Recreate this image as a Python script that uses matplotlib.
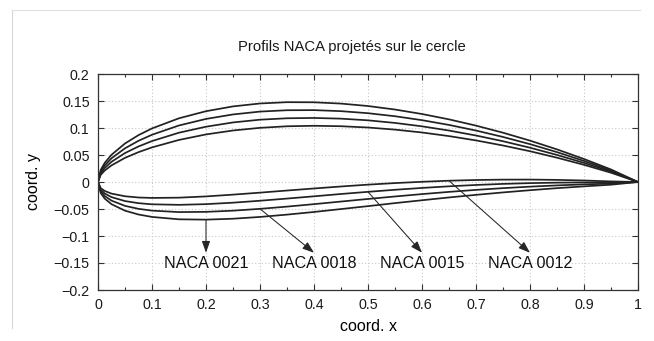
import numpy as np
import matplotlib
matplotlib.use("Agg")
import matplotlib.pyplot as plt
from matplotlib.lines import Line2D

plt.rcParams['font.family'] = ['Liberation Sans', 'DejaVu Sans']
plt.rcParams['font.size'] = 10

# stations along the chord
x = [0, 0.005, 0.0125, 0.025, 0.05, 0.075, 0.1, 0.15, 0.2, 0.25, 0.3, 0.35,
     0.4, 0.45, 0.5, 0.55, 0.6, 0.65, 0.7, 0.75, 0.8, 0.85, 0.9, 0.95, 1.0]

up_0021 = [0, 0.0223, 0.0355, 0.0504, 0.0713, 0.0868, 0.0992, 0.1180, 0.1311, 0.1400,
           0.1454, 0.1478, 0.1476, 0.1452, 0.1407, 0.1342, 0.1259, 0.1160, 0.1044,
           0.0913, 0.0766, 0.0604, 0.0426, 0.0232, 0]
lo_0021 = [0, -0.0204, -0.0308, -0.0411, -0.0531, -0.0602, -0.0647, -0.0691, -0.0697,
           -0.0680, -0.0647, -0.0604, -0.0555, -0.0501, -0.0447, -0.0391, -0.0338,
           -0.0286, -0.0238, -0.0193, -0.0152, -0.0114, -0.0081, -0.0050, 0]
up_0018 = [0, 0.0193, 0.0308, 0.0439, 0.0624, 0.0763, 0.0875, 0.1047, 0.1168, 0.1251,
           0.1304, 0.1329, 0.1331, 0.1312, 0.1274, 0.1218, 0.1145, 0.1057, 0.0953,
           0.0834, 0.0701, 0.0553, 0.0390, 0.0212, 0]
lo_0018 = [0, -0.0174, -0.0260, -0.0345, -0.0442, -0.0497, -0.0530, -0.0557, -0.0553,
           -0.0531, -0.0497, -0.0456, -0.0410, -0.0362, -0.0314, -0.0268, -0.0224,
           -0.0183, -0.0146, -0.0114, -0.0086, -0.0063, -0.0044, -0.0030, 0]
up_0015 = [0, 0.0162, 0.0260, 0.0374, 0.0536, 0.0658, 0.0758, 0.0913, 0.1024, 0.1103,
           0.1154, 0.1180, 0.1186, 0.1173, 0.1142, 0.1094, 0.1031, 0.0953, 0.0861,
           0.0755, 0.0635, 0.0501, 0.0354, 0.0192, 0]
lo_0015 = [0, -0.0143, -0.0213, -0.0280, -0.0353, -0.0392, -0.0413, -0.0423, -0.0410,
           -0.0383, -0.0347, -0.0307, -0.0265, -0.0222, -0.0182, -0.0144, -0.0110,
           -0.0080, -0.0055, -0.0035, -0.0021, -0.0012, -0.0008, -0.0010, 0]
up_0012 = [0, 0.0132, 0.0213, 0.0308, 0.0447, 0.0553, 0.0641, 0.0779, 0.0881, 0.0954,
           0.1003, 0.1032, 0.1041, 0.1033, 0.1009, 0.0970, 0.0917, 0.0850, 0.0770,
           0.0676, 0.0570, 0.0450, 0.0318, 0.0172, 0]
lo_0012 = [0, -0.0113, -0.0166, -0.0215, -0.0264, -0.0287, -0.0295, -0.0290, -0.0267,
           -0.0234, -0.0197, -0.0158, -0.0120, -0.0083, -0.0049, -0.0020, 0.0004,
           0.0024, 0.0037, 0.0044, 0.0045, 0.0039, 0.0028, 0.0011, 0]

profiles = [up_0021, lo_0021, up_0018, lo_0018, up_0015, lo_0015, up_0012, lo_0012]

# labels: name, point on the lower surface, label position
labels = ['NACA 0021', 'NACA 0018', 'NACA 0015', 'NACA 0012']
arrow_from = [(0.2, -0.0697), (0.3, -0.0497), (0.5, -0.0182), (0.65, 0.0024)]
label_x = [0.2, 0.4, 0.6, 0.8]
arrow_tip_y = -0.131
label_y = -0.15

fig = plt.figure(figsize=(6.54, 3.41), dpi=100)
ax = fig.add_axes([98/654, 51/341, 540/654, 216/341])

for yv in profiles:
    ax.plot(x, yv, color='#222222', lw=1.25)

for name, (x0, y0), lx in zip(labels, arrow_from, label_x):
    ax.annotate('', xy=(lx, arrow_tip_y), xytext=(x0, y0),
                arrowprops=dict(arrowstyle='-|>,head_length=0.7,head_width=0.25',
                                color='#262626', lw=0.75, shrinkA=0, shrinkB=0))
    ax.text(lx, label_y, name, ha='center', va='center', fontsize=11.6, color='#111111')

ax.set_xlim(0, 1)
ax.set_ylim(-0.2, 0.2)
ax.set_xticks(np.arange(0, 1.01, 0.1))
ax.set_xticks(np.arange(0.05, 1.0, 0.1), minor=True)
ax.set_yticks(np.arange(-0.2, 0.201, 0.05))
ax.set_xticklabels(['0', '0.1', '0.2', '0.3', '0.4', '0.5', '0.6', '0.7', '0.8', '0.9', '1'])
ax.set_yticklabels(['\u22120.2', '\u22120.15', '\u22120.1', '\u22120.05', '0',
                    '0.05', '0.1', '0.15', '0.2'])
ax.tick_params(which='both', direction='in', top=True, right=True, colors='#333333',
               labelcolor='#1a1a1a', labelsize=10.3)
ax.tick_params(which='major', length=4, width=0.8, pad=6)
ax.tick_params(which='minor', length=2.5, width=0.8)
ax.grid(True, which='major', color='#c8c8c8', linestyle=(0, (1, 2)), lw=0.8)
for s in ax.spines.values():
    s.set_color('#333333')
    s.set_linewidth(0.9)

ax.set_xlabel('coord. x', fontsize=11.5, labelpad=5)
ax.set_ylabel('coord. y', fontsize=11.5, labelpad=9)
fig.text(352/654, 1 - 47/341, 'Profils NACA projetés sur le cercle',
         ha='center', va='center', fontsize=10.7, color='#1a1a1a')

# thin page border
fig.add_artist(Line2D([12/654, 12/654], [13/341, 331/341], color='#d8d8d8', lw=0.8))
fig.add_artist(Line2D([12/654, 640/654], [331/341, 331/341], color='#e0e0e0', lw=0.8))

fig.savefig('out.png', dpi=100)
